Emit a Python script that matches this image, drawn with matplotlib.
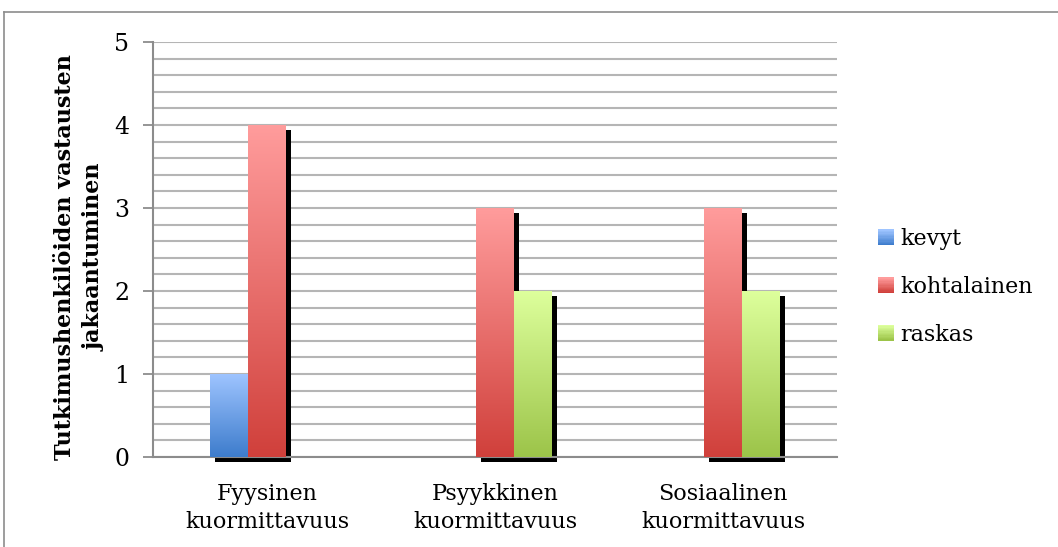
import numpy as np
import matplotlib
matplotlib.use("Agg")
import matplotlib.pyplot as plt
from matplotlib.patches import Rectangle
from matplotlib.legend_handler import HandlerBase
from matplotlib.colors import LinearSegmentedColormap
import matplotlib.transforms as mtransforms

plt.rcParams['font.family'] = ['DejaVu Serif']

categories = ["Fyysinen\nkuormittavuus", "Psyykkinen\nkuormittavuus", "Sosiaalinen\nkuormittavuus"]
series = ["kevyt", "kohtalainen", "raskas"]
kevyt = [1, 0, 0]
kohtalainen = [4, 3, 3]
raskas = [0, 2, 2]
y_label = "Tutkimushenkilöiden vastausten\njakaantuminen"

# top / bottom colours of the gradient fill
gradients = {
    "kevyt": ("#9ec4ff", "#3d7ccc"),
    "kohtalainen": ("#ff9c9c", "#d0403b"),
    "raskas": ("#ddff9c", "#9cc449"),
}

fig = plt.figure(figsize=(10.58, 5.47), dpi=100)
ax = fig.add_axes([153 / 1058, 1 - 457 / 547, 684 / 1058, 415 / 547])

# outer chart frame
fig.add_artist(plt.Line2D([4 / 1058, 4 / 1058], [0, 1 - 12 / 547], transform=fig.transFigure,
                          color="#8c8c8c", lw=1.2))
fig.add_artist(plt.Line2D([4 / 1058, 1], [1 - 12 / 547, 1 - 12 / 547], transform=fig.transFigure,
                          color="#8c8c8c", lw=1.2))

x = np.arange(len(categories))
w = 1 / 6
shadow_tr = mtransforms.offset_copy(ax.transData, fig=fig, x=5, y=-5, units='dots')
grad = np.linspace(1, 0, 256).reshape(-1, 1)

for i, (name, vals) in enumerate(zip(series, [kevyt, kohtalainen, raskas])):
    cmap = LinearSegmentedColormap.from_list(name, [gradients[name][1], gradients[name][0]])
    for xi, v in zip(x, vals):
        if v == 0:
            continue
        left = xi + (i - 1) * w - w / 2
        ax.add_patch(Rectangle((left, 0), w, v, transform=shadow_tr, facecolor="black",
                               edgecolor="none", zorder=2, clip_on=False))
        bar = Rectangle((left, 0), w, v, facecolor="none", edgecolor="none", zorder=3)
        ax.add_patch(bar)
        img = ax.imshow(grad, cmap=cmap, vmin=0, vmax=1, extent=(left, left + w, 0, v),
                        aspect='auto', zorder=3, interpolation='bilinear')
        img.set_clip_path(bar)

ax.set_xlim(-0.5, 2.5)
ax.set_ylim(0, 5)
ax.set_yticks(np.arange(0, 6, 1))
ax.set_yticks(np.arange(0, 5.01, 0.2), minor=True)
ax.set_xticks(x)
ax.set_xticklabels(categories, fontsize=16, linespacing=1.35)
ax.tick_params(axis='x', length=0, pad=19)
ax.tick_params(axis='y', which='major', length=7, width=1.3, color="#8c8c8c", labelsize=17, pad=10)
ax.tick_params(axis='y', which='minor', length=0)
ax.grid(True, which='both', axis='y', color="#b5b5b5", lw=1.5)
ax.set_axisbelow(True)
for s in ["top", "right"]:
    ax.spines[s].set_visible(False)
for s in ["left", "bottom"]:
    ax.spines[s].set_color("#8c8c8c")
    ax.spines[s].set_linewidth(1.5)

fig.text(80 / 1058, 1 - 257 / 547, y_label, rotation=90, ha='center', va='center',
         fontsize=16, fontweight='bold', linespacing=1.45)


class GradientHandler(HandlerBase):
    def __init__(self, top, bottom):
        super().__init__()
        self.top, self.bottom = top, bottom

    def create_artists(self, legend, orig_handle, xdescent, ydescent, width, height, fontsize, trans):
        cmap = LinearSegmentedColormap.from_list("h", [self.bottom, self.top])
        n = 12
        side = height
        x0 = (width - side) / 2 - xdescent
        arts = []
        for k in range(n):
            arts.append(Rectangle((x0, -ydescent + side * k / n), side, side / n + 0.3,
                                  facecolor=cmap(k / (n - 1)), edgecolor="none", transform=trans))
        return arts


handles = [Rectangle((0, 0), 1, 1) for _ in series]
hmap = {h: GradientHandler(*gradients[n]) for h, n in zip(handles, series)}
leg = fig.legend(handles, series, handler_map=hmap, loc='center left',
                 bbox_to_anchor=(858 / 1058, 1 - 287 / 547), frameon=False, fontsize=16,
                 handlelength=0.7, handleheight=0.7, handletextpad=0.3, labelspacing=1.15)

fig.savefig("out.png", dpi=100)
